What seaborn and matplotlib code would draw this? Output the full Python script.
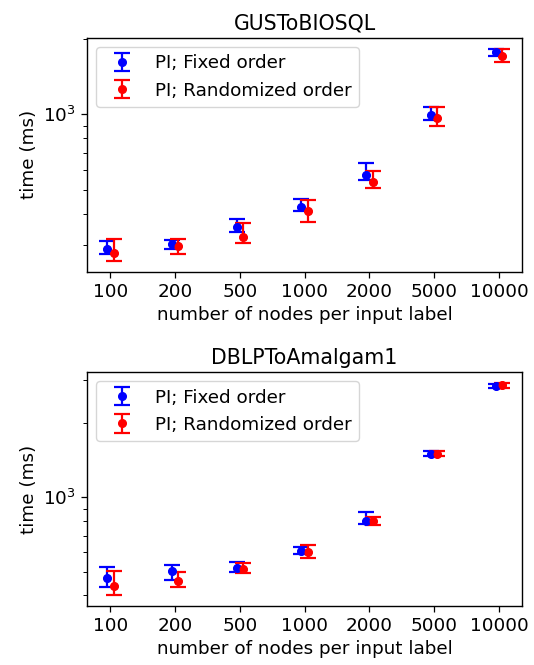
import matplotlib
matplotlib.use("Agg")
import matplotlib.pyplot as plt
from matplotlib.ticker import NullFormatter
import seaborn as sns
import pandas as pd
import numpy as np

categories = ["100", "200", "500", "1000", "2000", "5000", "10000"]

titles = ["GUSToBIOSQL", "DBLPToAmalgam1"]
series_labels = ["PI; Fixed order", "PI; Randomized order"]

# GUSToBIOSQL
gus_fixed = [289, 303, 355, 427, 572, 991, 1764]
gus_fixed_lo = [277, 291, 338, 411, 545, 946, 1711]
gus_fixed_hi = [311, 314, 382, 458, 640, 1067, 1820]
gus_rand = [280, 299, 325, 410, 537, 964, 1700]
gus_rand_lo = [260, 278, 307, 373, 507, 898, 1615]
gus_rand_hi = [317, 317, 368, 453, 593, 1067, 1825]

# DBLPToAmalgam1
dblp_fixed = [472, 502, 519, 604, 802, 1507, 2825]
dblp_fixed_lo = [432, 461, 500, 588, 777, 1466, 2773]
dblp_fixed_hi = [521, 534, 548, 627, 875, 1545, 2877]
dblp_rand = [438, 460, 513, 603, 802, 1507, 2860]
dblp_rand_lo = [401, 432, 494, 566, 773, 1466, 2780]
dblp_rand_hi = [502, 496, 543, 642, 830, 1545, 2921]

panels = [
    (gus_fixed, gus_fixed_lo, gus_fixed_hi, gus_rand, gus_rand_lo, gus_rand_hi),
    (dblp_fixed, dblp_fixed_lo, dblp_fixed_hi, dblp_rand, dblp_rand_lo, dblp_rand_hi),
]

sns.set_style("ticks", {"axes.edgecolor": "black", "xtick.color": "black",
                        "ytick.color": "black", "text.color": "black",
                        "axes.labelcolor": "black"})
plt.rcParams["font.family"] = ["DejaVu Sans"]
fs = 13.2

fig, axes = plt.subplots(2, 1, figsize=(5.34, 6.65), dpi=100)
fig.subplots_adjust(left=0.163, right=0.978, top=0.943, bottom=0.089, hspace=0.43)

colors = ["blue", "red"]
offsets = [-0.05, 0.05]

for ax, title, data in zip(axes, titles, panels):
    series = [(data[0], data[1], data[2]), (data[3], data[4], data[5])]
    pos = np.arange(len(categories))
    for (vals, lo, hi), col, off, lab in zip(series, colors, offsets, series_labels):
        x = pos + off
        v = np.array(vals, float)
        err = [v - np.array(lo, float), np.array(hi, float) - v]
        ax.errorbar(x, v, yerr=err, fmt="o", color=col, ecolor=col, capsize=6,
                    elinewidth=1.6, capthick=1.6, markersize=5.5, label=lab)
        df = pd.DataFrame({"x": x, "y": v})
        sns.scatterplot(data=df, x="x", y="y", color=col, s=32, edgecolor=col,
                        linewidth=0, ax=ax, legend=False, zorder=3)
    ax.set_yscale("log")
    ax.yaxis.set_minor_formatter(NullFormatter())
    ax.set_xticks(pos)
    ax.set_xticklabels(categories)
    ax.set_xlim(-0.36, 6.36)
    ax.set_title(title, fontsize=14.8)
    ax.set_xlabel("number of nodes per input label", fontsize=fs)
    ax.set_ylabel("time (ms)", fontsize=fs)
    ax.tick_params(axis="both", which="major", labelsize=fs, length=4.5, width=0.9)
    ax.tick_params(axis="y", which="minor", length=2.8, width=0.7)
    for s in ax.spines.values():
        s.set_linewidth(1.0)
    leg = ax.legend(loc="upper left", fontsize=fs, frameon=True)
    leg.get_frame().set_edgecolor("0.8")
    leg.get_frame().set_alpha(0.8)

fig.savefig("out.png", dpi=100)
